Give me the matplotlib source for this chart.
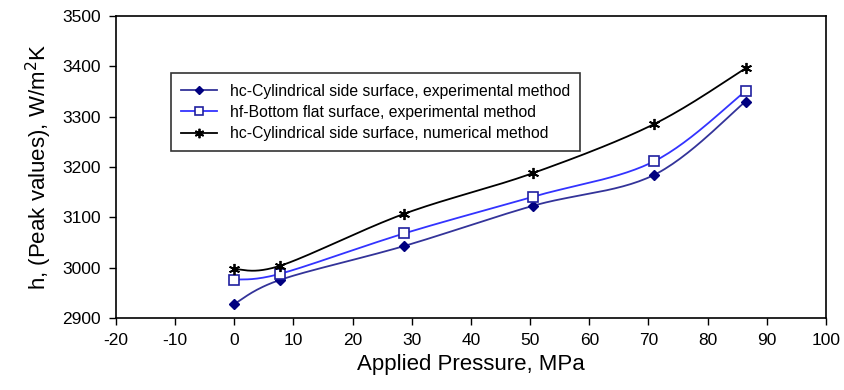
import numpy as np
import matplotlib.pyplot as plt

plt.rcParams['font.family'] = ['Liberation Sans', 'DejaVu Sans']
plt.rcParams['axes.unicode_minus'] = False

pressure = [0, 7.8, 28.7, 50.5, 70.9, 86.4]
hc_exp = [2928, 2976, 3043, 3123, 3184, 3330]
hf_exp = [2976, 2988, 3068, 3141, 3211, 3351]
hc_num = [2997, 3004, 3107, 3188, 3285, 3396]

labels = ['hc-Cylindrical side surface, experimental method',
          'hf-Bottom flat surface, experimental method',
          'hc-Cylindrical side surface, numerical method']


def smooth(x, y, n=30):
    # Excel-style smoothed line (Catmull-Rom through the points)
    x = np.asarray(x, float)
    y = np.asarray(y, float)
    px = np.concatenate([[x[0]], x, [x[-1]]])
    py = np.concatenate([[y[0]], y, [y[-1]]])
    xs, ys = [], []
    t = np.linspace(0, 1, n)
    for i in range(1, len(px) - 2):
        p0, p1, p2, p3 = [np.array([px[j], py[j]]) for j in range(i - 1, i + 3)]
        c1 = p1 + (p2 - p0) / 6
        c2 = p2 - (p3 - p1) / 6
        b = ((1 - t) ** 3)[:, None] * p1 + (3 * (1 - t) ** 2 * t)[:, None] * c1 \
            + (3 * (1 - t) * t ** 2)[:, None] * c2 + (t ** 3)[:, None] * p2
        xs.extend(b[:, 0])
        ys.extend(b[:, 1])
    return xs, ys


fig = plt.figure(figsize=(8.45, 3.9), dpi=100)
ax = fig.add_axes([116 / 845, 1 - 318 / 390, 710 / 845, 302 / 390])

styles = [
    dict(color='#333399', marker='D', mfc='#000080', mec='#000080', ms=5),
    dict(color='#3333ff', marker='s', mfc='white', mec='#2020a0', ms=7, mew=1.2),
    dict(color='black', marker=(6, 2, 0), mfc='black', mec='black', ms=8, mew=1.3),
]
handles = []
for ys, lab, st in zip([hc_exp, hf_exp, hc_num], labels, styles):
    sx, sy = smooth(pressure, ys)
    ax.plot(sx, sy, color=st['color'], lw=1.3)
    ax.plot(pressure, ys, ls='none', marker=st['marker'], mfc=st['mfc'],
            mec=st['mec'], ms=st['ms'], mew=st.get('mew', 1))
    h, = ax.plot([], [], color=st['color'], lw=1.3, marker=st['marker'], mfc=st['mfc'],
                 mec=st['mec'], ms=st['ms'] * 0.85, mew=st.get('mew', 1))
    handles.append(h)

ax.set_xlim(-20, 100)
ax.set_ylim(2900, 3500)
ax.set_xticks(np.arange(-20, 101, 10))
ax.set_yticks(np.arange(2900, 3501, 100))
ax.tick_params(direction='out', length=5, width=1, labelsize=12.5, pad=6)
for s in ax.spines.values():
    s.set_linewidth(1.2)

ax.set_xlabel('Applied Pressure, MPa', fontsize=16, labelpad=4)
ax.set_ylabel('h, (Peak values), W/m$^2$K', fontsize=16, labelpad=6)

leg = ax.legend(handles, labels, loc='upper left', bbox_to_anchor=(0.066, 0.836),
                fontsize=11.3, frameon=True, fancybox=False, edgecolor='black',
                handlelength=2.3, borderpad=0.65, labelspacing=0.4)
leg.get_frame().set_linewidth(1.2)

fig.savefig('out.png', dpi=100)
